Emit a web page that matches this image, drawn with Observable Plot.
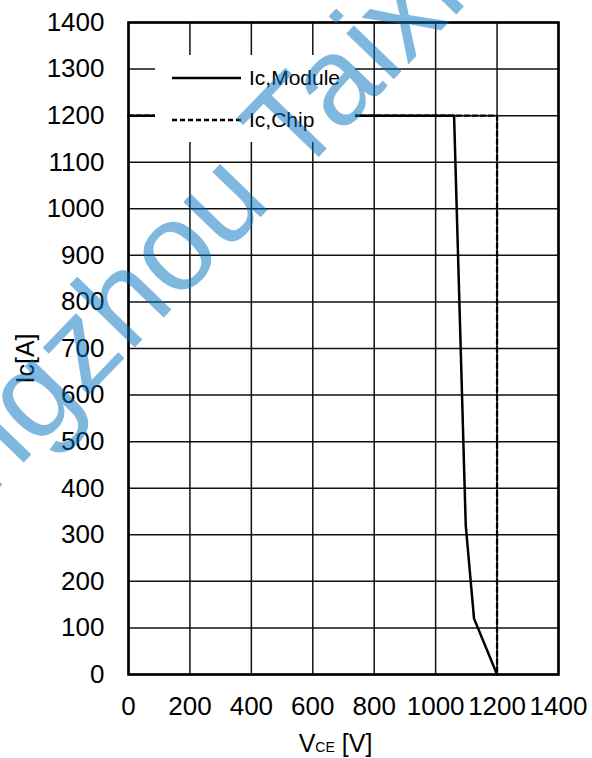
<!DOCTYPE html>
<html><head><meta charset="utf-8">
<script src="https://cdn.jsdelivr.net/npm/d3@7"></script>
<script src="https://cdn.jsdelivr.net/npm/@observablehq/plot@0.6"></script>
<style>body{margin:0;background:#fff;} svg{display:block;}</style>
</head><body><div id="chart"></div>
<script>
// ---- data ----
const xTicks = [0, 200, 400, 600, 800, 1000, 1200, 1400];
const yTicks = [0, 100, 200, 300, 400, 500, 600, 700, 800, 900, 1000, 1100, 1200, 1300, 1400];
const moduleV = [0, 1060, 1098, 1125, 1200];
const moduleI = [1200, 1200, 320, 120, 0];
const chipV = [0, 1200, 1200];
const chipI = [1200, 1200, 0];
const seriesNames = ["Ic,Module", "Ic,Chip"];
const yLabel = "Ic[A]";
const xLabelParts = ["V", "CE", "[V]"];
const watermark = "Yangzhou Taixin";

const moduleData = moduleV.map((v, k) => ({v, i: moduleI[k]}));
const chipData = chipV.map((v, k) => ({v, i: chipI[k]}));

const font = "'Liberation Sans', Arial, sans-serif";

const plot = Plot.plot({
  width: 592, height: 758,
  marginLeft: 128, marginRight: 34, marginTop: 22, marginBottom: 84,
  style: {fontFamily: font, fontSize: "26px", color: "black", background: "white"},
  x: {domain: [0, 1400], ticks: xTicks},
  y: {domain: [0, 1400], ticks: yTicks},
  marks: [
    Plot.gridX(xTicks, {stroke: "#111", strokeOpacity: 1, strokeWidth: 1.5}),
    Plot.gridY(yTicks, {stroke: "#111", strokeOpacity: 1, strokeWidth: 1.5}),
    Plot.axisX(xTicks, {tickSize: 0, tickPadding: 22, label: null, fontSize: 26, tickFormat: d => String(d)}),
    Plot.axisY(yTicks, {tickSize: 0, tickPadding: 24, label: null, fontSize: 26, tickFormat: d => String(d)}),
    Plot.line(chipData, {x: "v", y: "i", stroke: "black", strokeWidth: 2.3, strokeDasharray: "5,3"}),
    Plot.line(moduleData, {x: "v", y: "i", stroke: "black", strokeWidth: 2.5}),
    Plot.frame({stroke: "black", strokeWidth: 2.6}),
    Plot.text([yLabel], {frameAnchor: "left", textAnchor: "middle", dx: -103, dy: 10, rotate: -90, fontSize: 25})
  ]
});

const svg = d3.select(plot);

// legend
const lg = svg.append("g").attr("font-family", font).attr("font-size", 21).attr("text-anchor", "start");
lg.append("rect").attr("x", 155).attr("y", 55).attr("width", 200).attr("height", 87).attr("fill", "white");
const rows = [{y: 78, dash: null, w: 2.5}, {y: 120, dash: "5,3", w: 2.3}];
rows.forEach((r, k) => {
  lg.append("line").attr("x1", 172).attr("x2", 241).attr("y1", r.y).attr("y2", r.y)
    .attr("stroke", "black").attr("stroke-width", r.w).attr("stroke-dasharray", r.dash);
  lg.append("text").attr("x", 249).attr("y", r.y).attr("dy", "0.35em").attr("fill", "black")
    .attr("text-anchor", "start").text(seriesNames[k]);
});

// x-axis label with subscript
const xl = svg.append("text").attr("x", 335.5).attr("y", 752).attr("text-anchor", "middle")
  .attr("font-family", font).attr("fill", "black");
xl.append("tspan").attr("font-size", 25).text(xLabelParts[0]);
xl.append("tspan").attr("font-size", 14).text(xLabelParts[1]);
xl.append("tspan").attr("font-size", 25).text("\u00a0" + xLabelParts[2]);

// watermark
svg.append("text").attr("transform", "translate(-111,602) rotate(-46)")
  .attr("text-anchor", "start")
  .attr("font-family", font).attr("font-size", 125).attr("fill", "#0070c0").attr("fill-opacity", 0.5)
  .text(watermark);

document.getElementById("chart").append(plot);
</script>
</body></html>
